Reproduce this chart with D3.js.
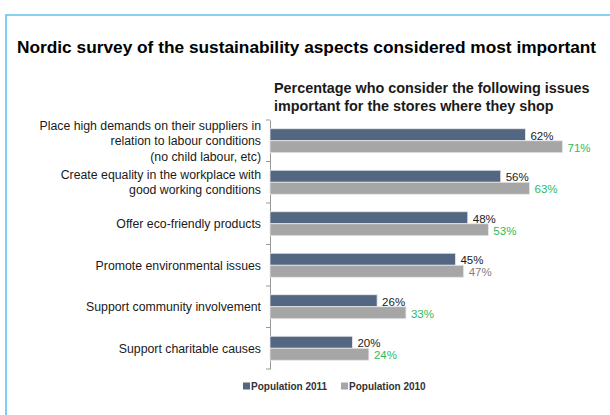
<!DOCTYPE html>
<html>
<head>
<meta charset="utf-8">
<script src="https://cdn.jsdelivr.net/npm/d3@7"></script>
<style>
body{margin:0;background:#fff;}
svg{display:block;font-family:"Liberation Sans",Arial,sans-serif;}
</style>
</head>
<body>
<svg id="chart" width="610" height="415"></svg>
<script>
const categories=[
	["Place high demands on their suppliers in","relation to labour conditions","(no child labour, etc)"],
	["Create equality in the workplace with","good working conditions"],
	["Offer eco-friendly products"],
	["Promote environmental issues"],
	["Support community involvement"],
	["Support charitable causes"]
];
const pop2011=[62,56,48,45,26,20];
const pop2010=[71,63,53,47,33,24];
const seriesNames=["Population 2011","Population 2010"];
const title="Nordic survey of the sustainability aspects considered most important";
const subtitle=["Percentage who consider the following issues","important for the stores where they shop"];

const svg=d3.select("#chart");
const margin={left:270,top:120};
const plotH=249;
const barH=12;
const colors=["#536782","#a6a6a6"];

//frame
svg.append("path")
	.attr("d","M6,415V15H610")
	.attr("fill","none")
	.attr("stroke","#5fc2ec")
	.attr("stroke-width",1.6);

svg.append("text")
	.attr("x",17).attr("y",53)
	.style("font-size","17.3px").style("font-weight","bold").style("fill","#000")
	.text(title);

const sub=svg.append("g").style("font-size","14px").style("font-weight","bold").style("fill","#1a1a1a");
sub.selectAll("text")
	.data(subtitle).enter()
	.append("text")
		.attr("x",274).attr("y",function(d,i){return 93+i*18;})
		.text(function(d){return d;});
//fit first line to ~316px wide like the original
const subLen=sub.select("text").node().getComputedTextLength();
sub.style("font-size",(14*316/subLen)+"px");

const x=d3.scaleLinear().domain([0,100]).range([0,412]);
const y=d3.scaleBand().domain(d3.range(categories.length)).range([0,plotH]);

const chart=svg.append("g").attr("transform","translate("+margin.left+","+margin.top+")");

//axis
const yAxis=d3.axisLeft(y).tickValues([]).tickSizeOuter(0);
const ax=chart.append("g").call(yAxis);
ax.select(".domain").attr("stroke","#999");
chart.append("g").selectAll("line")
	.data(d3.range(categories.length+1)).enter()
	.append("line")
		.attr("x1",-4).attr("x2",0)
		.attr("y1",function(d){return d*y.step();}).attr("y2",function(d){return d*y.step();})
		.attr("stroke","#999");

//category labels
chart.append("g").selectAll("text")
	.data(categories).enter()
	.append("text")
		.attr("text-anchor","end")
		.style("font-size","12.3px").style("fill","#1a1a1a")
		.each(function(lines,i){
			const cy=y(i)+y.bandwidth()/2;
			const t=d3.select(this);
			lines.forEach(function(l,j){
				t.append("tspan")
					.attr("x",-9)
					.attr("y",cy+(j-(lines.length-1)/2)*15.5)
					.attr("dy","0.35em")
					.text(l);
			});
		});

const series=[pop2011,pop2010];
series.forEach(function(vals,s){
	const g=chart.append("g");
	g.selectAll("rect")
		.data(vals).enter()
		.append("rect")
			.attr("x",0)
			.attr("y",function(d,i){return y(i)+y.bandwidth()/2-barH+s*barH;})
			.attr("width",function(d){return x(d);})
			.attr("height",barH)
			.style("fill",colors[s])
			.style("stroke","#e8e8e8")
			.style("stroke-width",0.8);
	g.selectAll("text")
		.data(vals).enter()
		.append("text")
			.attr("x",function(d){return x(d)+5;})
			.attr("y",function(d,i){return y(i)+y.bandwidth()/2-barH+s*barH+barH/2+1;})
			.attr("dy","0.35em")
			.style("font-size","11.5px")
			.style("fill",function(d,i){
				if(s==0) return "#1a1a1a";
				return d>pop2011[i]+2?"#2dbb5a":"#7f7f7f";
			})
			.text(function(d){return d+"%";});
});

//legend
const legend=svg.append("g").attr("transform","translate(243,386)");
const lx=[0,98];
seriesNames.forEach(function(n,i){
	legend.append("rect")
		.attr("x",lx[i]).attr("y",-3.5).attr("width",7).attr("height",7)
		.style("fill",colors[i]);
	legend.append("text")
		.attr("x",lx[i]+8).attr("y",0).attr("dy","0.35em")
		.style("font-size","10px").style("font-weight","bold").style("fill","#333")
		.text(n);
});
</script>
</body>
</html>
